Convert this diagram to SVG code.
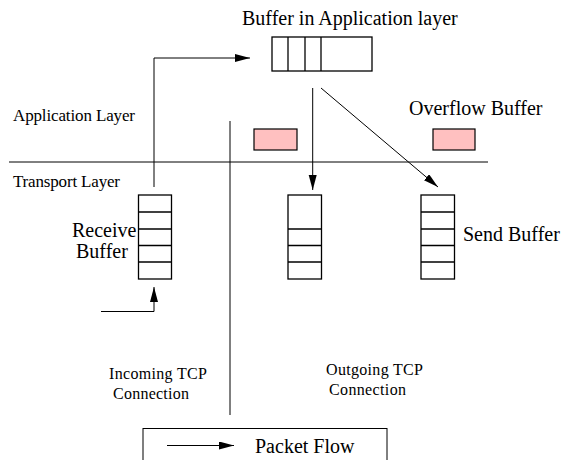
<svg xmlns="http://www.w3.org/2000/svg" width="567" height="460" viewBox="0 0 567 460" font-family="'Liberation Serif', 'Times New Roman', serif">
<defs>
<style>
.tx{font-family:'Liberation Serif','Times New Roman',serif;fill:#000}
.ln{stroke:#000;stroke-width:1;fill:none}
.box{stroke:#000;stroke-width:1.3;fill:#fff}
.pink{stroke:#000;stroke-width:1.2;fill:#ffc0c0}
.t20{font-size:20px}
.t17{font-size:17px}
.t16{font-size:16px}
</style>
<marker id="ah" markerUnits="userSpaceOnUse" markerWidth="16" markerHeight="10" refX="15" refY="4" orient="auto">
<path d="M0,0 L15,4 L0,8 Z" fill="#000"/>
</marker>
</defs>
<rect width="567" height="460" fill="#fff"/>
<g id="layers">
<line class="ln" x1="9" y1="162" x2="488" y2="162"/>
<line class="ln" x1="230" y1="121" x2="230" y2="415"/>
<text class="tx t17" x="13" y="121" textLength="122">Application Layer</text>
<text class="tx t17" x="13" y="187" textLength="107">Transport Layer</text>
</g>
<g id="app-buffer">
<text class="tx t20" x="242" y="25">Buffer in Application layer</text>
<rect class="box" x="272" y="37" width="100" height="34"/>
<line class="box" x1="288" y1="37" x2="288" y2="71"/>
<line class="box" x1="305" y1="37" x2="305" y2="71"/>
<line class="box" x1="321" y1="37" x2="321" y2="71"/>
</g>
<g id="overflow-left"><rect class="pink" x="254" y="129" width="43" height="21"/></g>
<g id="overflow-right">
<rect class="pink" x="433" y="129" width="42" height="21"/>
<text class="tx t20" x="409" y="115">Overflow Buffer</text>
</g>
<g id="receive-buffer">
<rect class="box" x="138.5" y="195" width="33" height="84"/>
<line class="box" x1="138.5" y1="212" x2="171.5" y2="212"/>
<line class="box" x1="138.5" y1="229" x2="171.5" y2="229"/>
<line class="box" x1="138.5" y1="245.5" x2="171.5" y2="245.5"/>
<line class="box" x1="138.5" y1="262" x2="171.5" y2="262"/>
<text class="tx t20" x="72" y="237">Receive</text>
<text class="tx t20" x="76" y="258">Buffer</text>
</g>
<g id="outgoing-buffer">
<rect class="box" x="288" y="195" width="33.5" height="84"/>
<line class="box" x1="288" y1="229" x2="321.5" y2="229"/>
<line class="box" x1="288" y1="245.5" x2="321.5" y2="245.5"/>
<line class="box" x1="288" y1="262" x2="321.5" y2="262"/>
</g>
<g id="send-buffer">
<rect class="box" x="421" y="195" width="33.5" height="84"/>
<line class="box" x1="421" y1="212" x2="454.5" y2="212"/>
<line class="box" x1="421" y1="229" x2="454.5" y2="229"/>
<line class="box" x1="421" y1="245.5" x2="454.5" y2="245.5"/>
<line class="box" x1="421" y1="262" x2="454.5" y2="262"/>
<text class="tx t20" x="463" y="241">Send Buffer</text>
</g>
<g id="labels">
<text class="tx t16" x="109" y="379" textLength="98">Incoming TCP</text>
<text class="tx t16" x="113" y="399" textLength="76">Connection</text>
<text class="tx t16" x="326" y="375" textLength="97">Outgoing TCP</text>
<text class="tx t16" x="329" y="395" textLength="77">Connection</text>
</g>
<g id="legend">
<rect class="ln" x="143" y="428.5" width="244" height="40"/>
<line class="ln" x1="167" y1="445.5" x2="234" y2="445.5" marker-end="url(#ah)"/>
<text class="tx t20" x="255" y="453">Packet Flow</text>
</g>
<g id="connectors">
<polyline class="ln" points="154,187 154,58 250,58" marker-end="url(#ah)"/>
<line class="ln" x1="312.7" y1="88" x2="312.7" y2="190" marker-end="url(#ah)"/>
<line class="ln" x1="321" y1="88" x2="438" y2="187" marker-end="url(#ah)"/>
<polyline class="ln" points="101,311.5 154,311.5 154,287" marker-end="url(#ah)"/>
</g>
</svg>
